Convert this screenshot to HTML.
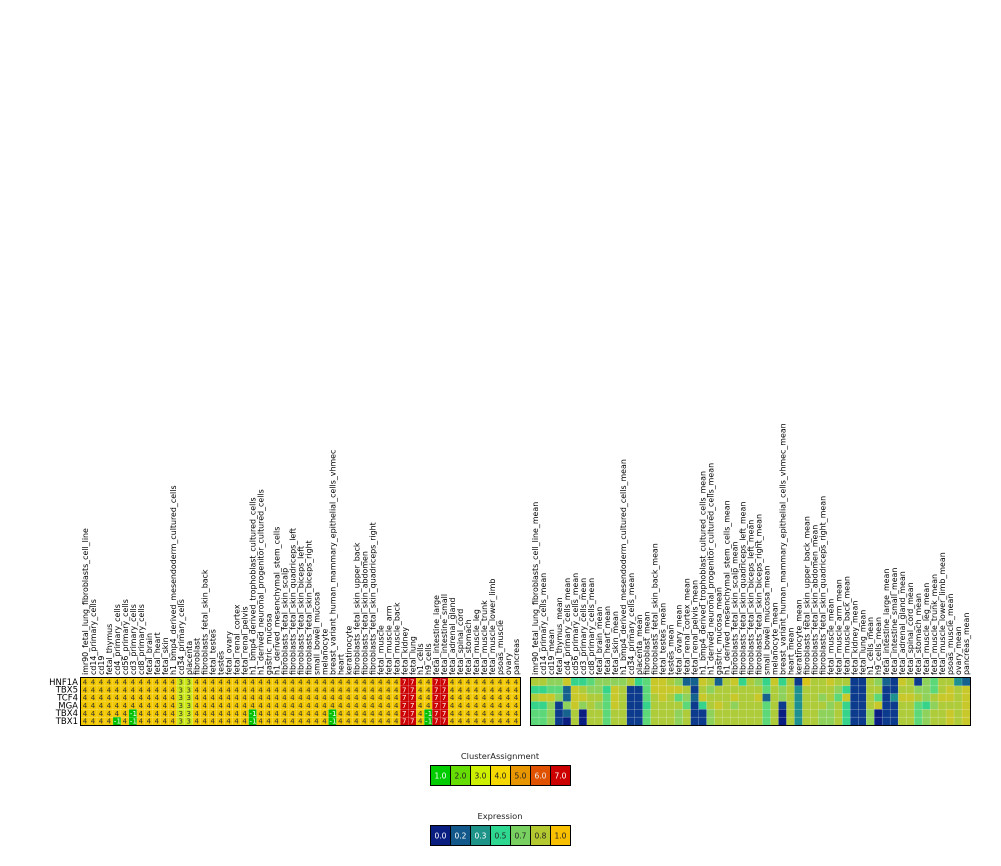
<!DOCTYPE html>
<html><head><meta charset="utf-8"><style>
html,body{margin:0;padding:0;background:#fff;}
svg{display:block;font-family:"DejaVu Sans","Liberation Sans",sans-serif;}
.cl{font-size:7.9px;fill:#000;}
.rl{font-size:8.5px;fill:#000;text-anchor:end;}
.num{font-size:7px;text-anchor:middle;}
.lg{font-size:7.5px;text-anchor:middle;}
.tt{font-size:8.3px;text-anchor:middle;fill:#222;}
</style></head><body>
<svg id="s" width="1001" height="866" viewBox="0 0 1001 866" xmlns="http://www.w3.org/2000/svg">
<g id="cells"></g>
<g id="lcols">
<text class="cl">imr90_fetal_lung_fibroblasts_cell_line</text>
<text class="cl">cd14_primary_cells</text>
<text class="cl">cd19</text>
<text class="cl">fetal_thymus</text>
<text class="cl">cd4_primary_cells</text>
<text class="cl">cd56_primary_cells</text>
<text class="cl">cd3_primary_cells</text>
<text class="cl">cd8_primary_cells</text>
<text class="cl">fetal_brain</text>
<text class="cl">fetal_heart</text>
<text class="cl">fetal_skin</text>
<text class="cl">h1_bmp4_derived_mesendoderm_cultured_cells</text>
<text class="cl">cd34_primary_cells</text>
<text class="cl">placenta</text>
<text class="cl">fibroblast</text>
<text class="cl">fibroblasts_fetal_skin_back</text>
<text class="cl">fetal_testes</text>
<text class="cl">testes</text>
<text class="cl">fetal_ovary</text>
<text class="cl">fetal_renal_cortex</text>
<text class="cl">fetal_renal_pelvis</text>
<text class="cl">h1_bmp4_derived_trophoblast_cultured_cells</text>
<text class="cl">h1_derived_neuronal_progenitor_cultured_cells</text>
<text class="cl">gastric_mucosa</text>
<text class="cl">h1_derived_mesenchymal_stem_cells</text>
<text class="cl">fibroblasts_fetal_skin_scalp</text>
<text class="cl">fibroblasts_fetal_skin_quadriceps_left</text>
<text class="cl">fibroblasts_fetal_skin_biceps_left</text>
<text class="cl">fibroblasts_fetal_skin_biceps_right</text>
<text class="cl">small_bowel_mucosa</text>
<text class="cl">melanocyte</text>
<text class="cl">breast_variant_human_mammary_epithelial_cells_vhmec</text>
<text class="cl">heart</text>
<text class="cl">keratinocyte</text>
<text class="cl">fibroblasts_fetal_skin_upper_back</text>
<text class="cl">fibroblasts_fetal_skin_abdomen</text>
<text class="cl">fibroblasts_fetal_skin_quadriceps_right</text>
<text class="cl">fetal_muscle</text>
<text class="cl">fetal_muscle_arm</text>
<text class="cl">fetal_muscle_back</text>
<text class="cl">fetal_kidney</text>
<text class="cl">fetal_lung</text>
<text class="cl">h1_cells</text>
<text class="cl">h9_cells</text>
<text class="cl">fetal_intestine_large</text>
<text class="cl">fetal_intestine_small</text>
<text class="cl">fetal_adrenal_gland</text>
<text class="cl">fetal_spinal_cord</text>
<text class="cl">fetal_stomach</text>
<text class="cl">fetal_muscle_leg</text>
<text class="cl">fetal_muscle_trunk</text>
<text class="cl">fetal_muscle_lower_limb</text>
<text class="cl">psoas_muscle</text>
<text class="cl">ovary</text>
<text class="cl">pancreas</text>
</g>
<g id="rcols">
<text class="cl">imr90_fetal_lung_fibroblasts_cell_line_mean</text>
<text class="cl">cd14_primary_cells_mean</text>
<text class="cl">cd19_mean</text>
<text class="cl">fetal_thymus_mean</text>
<text class="cl">cd4_primary_cells_mean</text>
<text class="cl">cd56_primary_cells_mean</text>
<text class="cl">cd3_primary_cells_mean</text>
<text class="cl">cd8_primary_cells_mean</text>
<text class="cl">fetal_brain_mean</text>
<text class="cl">fetal_heart_mean</text>
<text class="cl">fetal_skin_mean</text>
<text class="cl">h1_bmp4_derived_mesendoderm_cultured_cells_mean</text>
<text class="cl">cd34_primary_cells_mean</text>
<text class="cl">placenta_mean</text>
<text class="cl">fibroblast_mean</text>
<text class="cl">fibroblasts_fetal_skin_back_mean</text>
<text class="cl">fetal_testes_mean</text>
<text class="cl">testes_mean</text>
<text class="cl">fetal_ovary_mean</text>
<text class="cl">fetal_renal_cortex_mean</text>
<text class="cl">fetal_renal_pelvis_mean</text>
<text class="cl">h1_bmp4_derived_trophoblast_cultured_cells_mean</text>
<text class="cl">h1_derived_neuronal_progenitor_cultured_cells_mean</text>
<text class="cl">gastric_mucosa_mean</text>
<text class="cl">h1_derived_mesenchymal_stem_cells_mean</text>
<text class="cl">fibroblasts_fetal_skin_scalp_mean</text>
<text class="cl">fibroblasts_fetal_skin_quadriceps_left_mean</text>
<text class="cl">fibroblasts_fetal_skin_biceps_left_mean</text>
<text class="cl">fibroblasts_fetal_skin_biceps_right_mean</text>
<text class="cl">small_bowel_mucosa_mean</text>
<text class="cl">melanocyte_mean</text>
<text class="cl">breast_variant_human_mammary_epithelial_cells_vhmec_mean</text>
<text class="cl">heart_mean</text>
<text class="cl">keratinocyte_mean</text>
<text class="cl">fibroblasts_fetal_skin_upper_back_mean</text>
<text class="cl">fibroblasts_fetal_skin_abdomen_mean</text>
<text class="cl">fibroblasts_fetal_skin_quadriceps_right_mean</text>
<text class="cl">fetal_muscle_mean</text>
<text class="cl">fetal_muscle_arm_mean</text>
<text class="cl">fetal_muscle_back_mean</text>
<text class="cl">fetal_kidney_mean</text>
<text class="cl">fetal_lung_mean</text>
<text class="cl">h1_cells_mean</text>
<text class="cl">h9_cells_mean</text>
<text class="cl">fetal_intestine_large_mean</text>
<text class="cl">fetal_intestine_small_mean</text>
<text class="cl">fetal_adrenal_gland_mean</text>
<text class="cl">fetal_spinal_cord_mean</text>
<text class="cl">fetal_stomach_mean</text>
<text class="cl">fetal_muscle_leg_mean</text>
<text class="cl">fetal_muscle_trunk_mean</text>
<text class="cl">fetal_muscle_lower_limb_mean</text>
<text class="cl">psoas_muscle_mean</text>
<text class="cl">ovary_mean</text>
<text class="cl">pancreas_mean</text>
</g>
<g>
<text class="rl" x="78" y="684.8">HNF1A</text>
<text class="rl" x="78" y="692.6">TBX5</text>
<text class="rl" x="78" y="700.5">TCF4</text>
<text class="rl" x="78" y="708.3">MGA</text>
<text class="rl" x="78" y="716.1">TBX4</text>
<text class="rl" x="78" y="724.0">TBX1</text>
</g>
<g id="nums" fill="#333">
<text class="num">444444444444334444444444444444444444444444444444444</text>
<text class="num">444444444444334444444444444444444444444444444444444</text>
<text class="num">444444444444334444444444444444444444444444444444444</text>
<text class="num">444444444444334444444444444444444444444444444444444</text>
<text class="num">44444444444334444444444444444444444444444444444</text>
<text class="num">4444444444334444444444444444444444444444444444</text>
</g>
<g id="wnums" fill="#fff">
<text class="num">7777</text>
<text class="num">7777</text>
<text class="num">7777</text>
<text class="num">7777</text>
<text class="num">-1-1-177-177</text>
<text class="num">-1-1-1-177-177</text>
</g>
<text class="tt" x="500" y="759">ClusterAssignment</text>
<g stroke="#000" stroke-width="1">
<rect x="430.5" y="765.5" width="20" height="20" fill="#00cc00"/>
<rect x="450.5" y="765.5" width="20" height="20" fill="#66dd00"/>
<rect x="470.5" y="765.5" width="20" height="20" fill="#ccf000"/>
<rect x="490.5" y="765.5" width="20" height="20" fill="#f5d800"/>
<rect x="510.5" y="765.5" width="20" height="20" fill="#e89600"/>
<rect x="530.5" y="765.5" width="20" height="20" fill="#e05200"/>
<rect x="550.5" y="765.5" width="20" height="20" fill="#cc0000"/>
</g>
<text class="lg" x="440.5" y="778.5" fill="#fff">1.0</text>
<text class="lg" x="460.5" y="778.5" fill="#222">2.0</text>
<text class="lg" x="480.5" y="778.5" fill="#222">3.0</text>
<text class="lg" x="500.5" y="778.5" fill="#222">4.0</text>
<text class="lg" x="520.5" y="778.5" fill="#222">5.0</text>
<text class="lg" x="540.5" y="778.5" fill="#eee">6.0</text>
<text class="lg" x="560.5" y="778.5" fill="#fff">7.0</text>
<text class="tt" x="500" y="819">Expression</text>
<g stroke="#000" stroke-width="1">
<rect x="430.5" y="825.5" width="20" height="20" fill="#0a1e82"/>
<rect x="450.5" y="825.5" width="20" height="20" fill="#12588a"/>
<rect x="470.5" y="825.5" width="20" height="20" fill="#1e9488"/>
<rect x="490.5" y="825.5" width="20" height="20" fill="#2fd890"/>
<rect x="510.5" y="825.5" width="20" height="20" fill="#78d060"/>
<rect x="530.5" y="825.5" width="20" height="20" fill="#b4c830"/>
<rect x="550.5" y="825.5" width="20" height="20" fill="#f8c000"/>
</g>
<text class="lg" x="440.5" y="838.5" fill="#fff">0.0</text>
<text class="lg" x="460.5" y="838.5" fill="#fff">0.2</text>
<text class="lg" x="480.5" y="838.5" fill="#fff">0.3</text>
<text class="lg" x="500.5" y="838.5" fill="#222">0.5</text>
<text class="lg" x="520.5" y="838.5" fill="#222">0.7</text>
<text class="lg" x="540.5" y="838.5" fill="#222">0.8</text>
<text class="lg" x="560.5" y="838.5" fill="#222">1.0</text>
</svg>
<script>
(function(){
var NS="http://www.w3.org/2000/svg";
var cells=document.getElementById("cells");
var L0=81,R0=531,T=678,CW=439/55,RH=47/6;
function rect(x,y,w,h,f){var r=document.createElementNS(NS,"rect");r.setAttribute("x",x);r.setAttribute("y",y);r.setAttribute("width",w);r.setAttribute("height",h);r.setAttribute("fill",f);cells.appendChild(r);return r;}
var lc={"4":"#f2c800","3":"#cce81a","7":"#cc0000","-1":"#00c000"};
var rows=[];
for(var r=0;r<6;r++){var a=[];for(var c=0;c<55;c++){var v="4";if(c==12||c==13)v="3";if(c==40||c==41||c==44||c==45)v="7";a.push(v);}rows.push(a);}
[6,21,31,43].forEach(function(c){rows[4][c]="-1";rows[5][c]="-1";});rows[5][4]="-1";
for(var r=0;r<6;r++)for(var c=0;c<55;c++)rect(L0+c*CW,T+r*RH,CW+0.05,RH+0.05,lc[rows[r][c]]);
var pal={a:"#0a1e82",b:"#0c3a8c",c:"#16628e",d:"#1e9090",e:"#36d48a",f:"#5cd878",g:"#8ed25c",h:"#aecb3a",i:"#c8c82a",j:"#d8c418"};
var R=[
"hhggieefgggghefiihg"+"ccihchiehgeiehbjhh"+"ihhbbhgcbihbgfhhdc",
"eeffcihggeihbbfiiii"+"hbhghhhhhhfhghdhhh"+"hgebbhhbbhhggfhihi",
"hiigciihhfihbbfhihf"+"gcihhhihhichghdhhg"+"hfibbhfbdiihghiihi",
"eegbgighgfihbbehhhh"+"fbehihghhhfhbhdhhh"+"ghebbhibbhhfeghhhi",
"ffgbchahhfhhbbfhhhg"+"hbbghhhhhhfhahdhhg"+"ghebbgabbhhfghhihi",
"ffgbahahhfhhbbfhhhg"+"hbbghhhhhhfhahdhhg"+"ghebbgabbhhfghhihi"
];
for(var r=0;r<6;r++){var s=R[r];for(var c=0;c<55;c++){var k=s.charAt(c)||"h";rect(R0+c*CW,T+r*RH,CW+0.05,RH+0.05,pal[k]||pal.h);}}
for(var g=0;g<2;g++){var x0=g?R0:L0;
for(var c=1;c<55;c++)rect(x0+c*CW-0.25,T,0.5,47,"rgba(255,255,255,0.35)");
for(var r=1;r<6;r++)rect(x0,T+r*RH-0.25,439,0.5,"rgba(255,255,255,0.35)");
var b=document.createElementNS(NS,"rect");b.setAttribute("x",x0-0.5);b.setAttribute("y",T-0.5);b.setAttribute("width",440);b.setAttribute("height",48);b.setAttribute("fill","none");b.setAttribute("stroke","#000");b.setAttribute("stroke-width","1");cells.appendChild(b);}
function place(id,x0){var t=document.getElementById(id).getElementsByTagName("text");for(var i=0;i<t.length;i++){var cx=x0+(i+0.5)*CW+3;t[i].setAttribute("transform","translate("+cx.toFixed(2)+",675) rotate(-90)");}}
place("lcols",L0);place("rcols",R0);
var dn=document.getElementById("nums").getElementsByTagName("text");
var wn=document.getElementById("wnums").getElementsByTagName("text");
for(var r=0;r<6;r++){var dx=[],wx=[],ds="",ws="";
for(var c=0;c<55;c++){var v=rows[r][c],cx=L0+(c+0.5)*CW;
if(v=="-1"){wx.push((cx-1.8).toFixed(2));wx.push((cx+1.8).toFixed(2));ws+="-1";}
else if(v=="7"){wx.push(cx.toFixed(2));ws+="7";}
else {dx.push(cx.toFixed(2));ds+=v;}}
var y=(T+r*RH+RH/2+2.5).toFixed(2);
dn[r].textContent=ds;wn[r].textContent=ws;
dn[r].setAttribute("x",dx.join(" "));dn[r].setAttribute("y",y);
wn[r].setAttribute("x",wx.join(" "));wn[r].setAttribute("y",y);}
})();
</script>
</body></html>
